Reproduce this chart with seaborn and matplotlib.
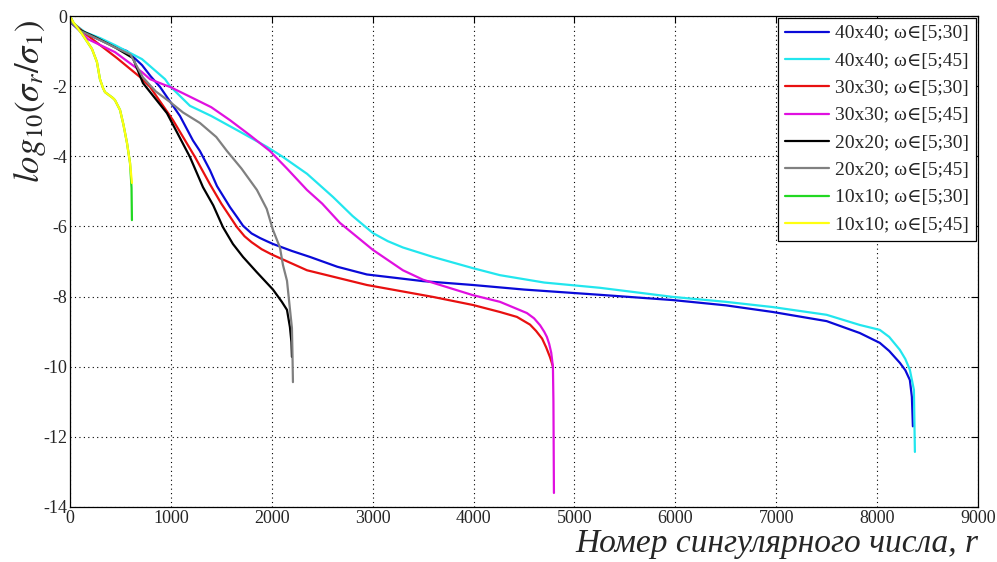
import matplotlib
matplotlib.use("Agg")
import matplotlib.pyplot as plt
import seaborn as sns
import pandas as pd

# ── Data (x = singular value index, y = log10(s_r/s_1)) ──
LABELS = [
    "40x40; ω∈[5;30]", "40x40; ω∈[5;45]",
    "30x30; ω∈[5;30]", "30x30; ω∈[5;45]",
    "20x20; ω∈[5;30]", "20x20; ω∈[5;45]",
    "10x10; ω∈[5;30]", "10x10; ω∈[5;45]",
]
COLORS = ["#0a0ad8", "#22e6ee", "#e81010", "#e010e0",
          "#000000", "#808080", "#22d822", "#ffff10"]

x_40_30 = [0, 20, 100, 250, 450, 565, 714, 800, 892, 1090, 1219, 1288, 1388, 1457,
           1586, 1660, 1715, 1800, 1883, 1950, 2012, 2200, 2379, 2650, 2943, 3500,
           3994, 4500, 5253, 5976, 6500, 6967, 7500, 7829, 8027, 8120, 8226, 8280,
           8325, 8345, 8355]
y_40_30 = [0, -0.22, -0.42, -0.62, -0.88, -1.0, -1.4, -1.72, -2.02, -2.85, -3.55,
           -3.85, -4.4, -4.85, -5.45, -5.75, -5.98, -6.2, -6.33, -6.42, -6.5, -6.7,
           -6.87, -7.15, -7.37, -7.56, -7.67, -7.8, -7.95, -8.1, -8.25, -8.44, -8.7,
           -9.04, -9.32, -9.55, -9.89, -10.1, -10.38, -10.86, -11.7]

x_40_45 = [0, 30, 149, 300, 446, 714, 942, 991, 1189, 1400, 1685, 1952, 2111, 2350,
           2607, 2800, 3003, 3150, 3300, 3598, 3994, 4262, 4700, 5253, 5976, 6500,
           6967, 7500, 7829, 8027, 8120, 8226, 8280, 8325, 8365, 8375]
y_40_45 = [0, -0.2, -0.46, -0.63, -0.83, -1.23, -1.8, -2.0, -2.56, -2.85, -3.3,
           -3.73, -4.02, -4.5, -5.16, -5.7, -6.19, -6.42, -6.6, -6.87, -7.19, -7.39,
           -7.6, -7.75, -8.01, -8.15, -8.3, -8.52, -8.81, -8.95, -9.15, -9.52, -9.78,
           -10.09, -10.66, -12.43]

x_30_30 = [0, 30, 150, 466, 694, 793, 1021, 1239, 1388, 1500, 1655, 1730, 1800,
           1900, 2000, 2349, 2943, 3598, 3994, 4262, 4430, 4560, 4620, 4680, 4720,
           4757, 4775, 4787]
y_30_30 = [0, -0.2, -0.5, -1.2, -1.74, -2.02, -2.97, -4.02, -4.8, -5.35, -6.02,
           -6.28, -6.45, -6.65, -6.8, -7.25, -7.67, -8.01, -8.24, -8.44, -8.58, -8.8,
           -8.98, -9.2, -9.45, -9.72, -9.88, -10.0]

x_30_45 = [0, 20, 178, 446, 714, 793, 942, 991, 1189, 1400, 1586, 1784, 1982, 2151,
           2349, 2500, 2676, 3003, 3300, 3500, 3994, 4262, 4529, 4600, 4660, 4700,
           4727, 4750, 4770, 4787, 4792, 4797]
y_30_45 = [0, -0.2, -0.66, -1.03, -1.6, -1.8, -1.97, -2.02, -2.3, -2.6, -2.97,
           -3.4, -3.85, -4.35, -4.96, -5.35, -5.9, -6.67, -7.25, -7.52, -7.96,
           -8.15, -8.47, -8.62, -8.82, -9.0, -9.15, -9.35, -9.6, -10.0, -11.0, -13.6]

x_20_30 = [0, 20, 100, 250, 450, 624, 723, 961, 1189, 1318, 1420, 1516, 1615, 1715,
           1850, 2012, 2100, 2151, 2180, 2195, 2200]
y_20_30 = [0, -0.2, -0.4, -0.6, -0.9, -1.2, -1.91, -2.77, -4.02, -4.88, -5.4,
           -6.02, -6.5, -6.87, -7.3, -7.8, -8.15, -8.38, -8.87, -9.3, -9.72]

x_20_45 = [0, 20, 100, 250, 450, 600, 723, 850, 991, 1120, 1288, 1450, 1556, 1700,
           1853, 1950, 2012, 2081, 2111, 2151, 2180, 2200, 2205, 2210]
y_20_45 = [0, -0.2, -0.42, -0.62, -0.9, -1.1, -1.75, -2.15, -2.45, -2.75, -3.05,
           -3.45, -3.85, -4.35, -4.96, -5.5, -6.1, -6.6, -7.1, -7.55, -8.35, -8.9,
           -9.6, -10.44]

x_10_30 = [0, 30, 119, 218, 267, 297, 327, 347, 426, 446, 496, 530, 565, 595, 610,
           614]
y_10_30 = [0, -0.17, -0.51, -0.94, -1.31, -1.8, -2.05, -2.17, -2.34, -2.4, -2.68,
           -3.1, -3.62, -4.19, -4.9, -5.82]

x_10_45 = [0, 30, 119, 218, 267, 297, 327, 347, 426, 446, 496, 530, 565, 595, 614]
y_10_45 = [0, -0.17, -0.51, -0.94, -1.31, -1.8, -2.05, -2.17, -2.34, -2.4, -2.68,
           -3.1, -3.62, -4.19, -4.76]

SERIES = [(x_40_30, y_40_30), (x_40_45, y_40_45), (x_30_30, y_30_30),
          (x_30_45, y_30_45), (x_20_30, y_20_30), (x_20_45, y_20_45),
          (x_10_30, y_10_30), (x_10_45, y_10_45)]

X_TICKS = [0, 1000, 2000, 3000, 4000, 5000, 6000, 7000, 8000, 9000]
Y_TICKS = [0, -2, -4, -6, -8, -10, -12, -14]

# ── Style ─────────────────────────────────────────────────────────────────────
sns.set_style("white")
plt.rcParams.update({
    "font.family": ["Liberation Serif", "DejaVu Serif"],
    "mathtext.fontset": "stix",
    "axes.unicode_minus": False,
    "xtick.direction": "in",
    "ytick.direction": "in",
    "xtick.top": True,
    "ytick.right": True,
})

fig = plt.figure(figsize=(9.97, 5.62), dpi=100)
ax = fig.add_axes([0.0702, 0.0979, 0.9107, 0.8736])

for (xs, ys), lab, col in zip(SERIES, LABELS, COLORS):
    d = pd.DataFrame({"r": xs, "v": ys})
    sns.lineplot(data=d, x="r", y="v", color=col, label=lab, linewidth=1.6,
                 estimator=None, sort=False, ax=ax)

ax.set_xlim(0, 9000)
ax.set_ylim(-14, 0)
ax.set_xticks(X_TICKS)
ax.set_yticks(Y_TICKS)
ax.tick_params(labelsize=13, length=5, width=0.8, color="black", pad=2)
ax.grid(True, color="black", linestyle=(0, (1, 3)), linewidth=0.8)
for s in ax.spines.values():
    s.set_color("black")
    s.set_linewidth(0.9)
ax.set_xlabel("")
ax.set_ylabel("")

leg = ax.legend(loc="upper right", fontsize=14, frameon=True, fancybox=False,
                edgecolor="black", framealpha=1, handlelength=2.3,
                handletextpad=0.3, labelspacing=0.5, borderaxespad=0.1,
                borderpad=0.35)
leg.get_frame().set_linewidth(0.9)

fig.text(30 / 997, 1 - 102 / 562, r"$log_{10}(\sigma_r/\sigma_1)$", rotation=90,
         ha="center", va="center", fontsize=25)
fig.text(978 / 997, 1 - 544 / 562, "Номер сингулярного числа, r",
         ha="right", va="center", fontsize=24, style="italic")

fig.savefig("out.png", dpi=100)
